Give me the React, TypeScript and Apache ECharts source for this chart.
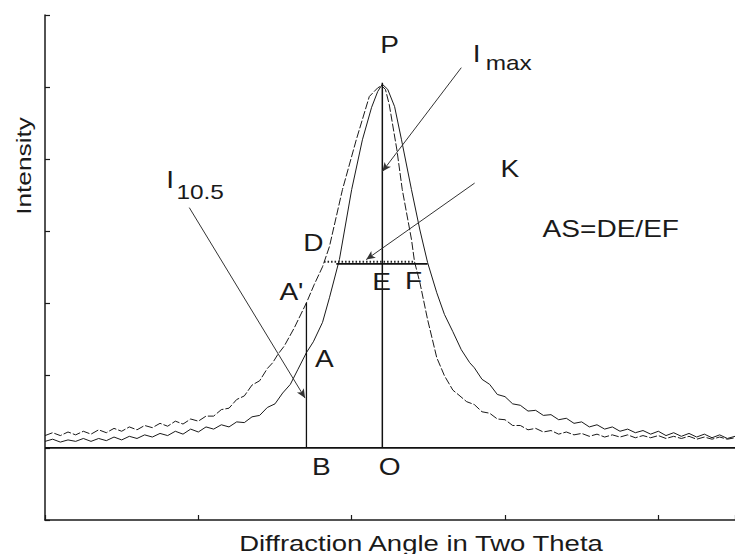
import React, { useEffect, useRef } from "react";
import * as echarts from "echarts";

// Intensity profile of the reference peak (solid trace)
const solidCurve: number[][] = [
  [0, 0.9], [0.5, 1.2], [1, 0.8], [1.5, 1.1], [2, 0.9], [2.5, 1.3], [3, 0.9], [3.5, 1.3],
  [4, 1.0], [4.5, 1.5], [5, 1.1], [5.5, 1.6], [6, 1.3], [6.5, 1.8], [7, 1.5], [7.5, 2.0],
  [8, 1.7], [8.5, 2.3], [9, 1.9], [9.5, 2.6], [10, 2.2], [10.5, 2.9], [11, 2.6], [11.5, 3.2],
  [12, 2.9], [12.5, 3.6], [13, 3.5], [13.5, 4.3], [14, 4.5], [14.5, 5.6], [15, 6.1], [15.5, 7.6],
  [16, 8.8], [16.5, 10.9], [17.05, 13.2], [17.5, 14.7], [18.1, 17.4], [18.55, 20.8], [19.2, 26.1],
  [20, 35.8], [20.7, 42.7], [21.3, 47.2], [21.7, 49.4], [22, 50.4], [22.35, 49.7], [22.8, 47.3],
  [23.25, 42.7], [23.9, 35.8], [24.45, 30.2], [24.95, 25.7], [25.55, 21.5], [26.05, 18.5],
  [26.6, 16.1], [27.15, 13.6], [27.7, 11.8], [28, 11.1], [28.5, 9.5], [29, 8.8], [29.5, 7.4],
  [30, 7.1], [30.5, 6.1], [31, 5.9], [31.5, 5.1], [32, 5.2], [32.5, 4.5], [33, 4.6], [33.5, 3.9],
  [34, 4.1], [34.5, 3.4], [35, 3.6], [35.5, 2.9], [36, 3.2], [36.5, 2.6], [37, 2.9], [37.5, 2.3],
  [38, 2.6], [38.5, 2.1], [39, 2.4], [39.5, 1.9], [40, 2.3], [40.5, 1.7], [41, 2.1], [41.5, 1.6],
  [42, 2.0], [42.5, 1.5], [43, 1.9], [43.5, 1.4], [44, 1.8], [44.5, 1.3], [45, 1.6],
];

// Asymmetric peak (dashed trace)
const dashedCurve: number[][] = [
  [0, 1.7], [0.5, 2.1], [1, 1.7], [1.5, 2.2], [2, 1.8], [2.5, 2.3], [3, 1.9], [3.5, 2.5],
  [4, 2.1], [4.5, 2.7], [5, 2.3], [5.5, 2.9], [6, 2.5], [6.5, 3.1], [7, 2.8], [7.5, 3.4],
  [8, 3.0], [8.5, 3.7], [9, 3.3], [9.5, 4.0], [10, 3.7], [10.5, 4.4], [11, 4.4], [11.5, 5.3],
  [12, 5.5], [12.5, 6.7], [13, 7.2], [13.5, 8.7], [14, 9.3], [14.5, 11.0], [14.85, 11.8],
  [15.2, 13.0], [15.6, 14.1], [16.25, 16.6], [17.05, 20.1], [17.55, 22.6], [18.1, 25.1],
  [18.55, 27.9], [19.4, 35.8], [20.3, 42.7], [21.15, 48.7], [21.7, 49.9], [21.95, 50.2],
  [22.2, 49.7], [22.45, 47.6], [22.95, 41.3], [23.3, 35.8], [23.9, 28.9], [24.1, 25.8],
  [24.45, 22.9], [24.95, 17.8], [25.55, 12.5], [26.05, 10.0], [26.6, 8.0], [27, 7.3],
  [27.5, 6.4], [28, 6.0], [28.5, 5.0], [29, 4.8], [29.5, 4.0], [30, 3.9], [30.5, 3.1],
  [31, 3.1], [31.5, 2.5], [32, 2.7], [32.5, 2.2], [33, 2.4], [33.5, 1.9], [34, 2.2], [34.5, 1.8],
  [35, 2.0], [35.5, 1.6], [36, 1.9], [36.5, 1.5], [37, 1.8], [37.5, 1.5], [38, 1.8], [38.5, 1.4],
  [39, 1.7], [39.5, 1.4], [40, 1.7], [40.5, 1.3], [41, 1.6], [41.5, 1.3], [42, 1.6], [42.5, 1.2],
  [43, 1.5], [43.5, 1.2], [44, 1.5], [44.5, 1.2], [45, 1.4],
];

// Construction lines
const baseline: number[][] = [[0, 0], [45, 0]];
const peakLine: number[][] = [[22, 0], [22, 50.6]];
const bLine: number[][] = [[17.05, 0], [17.05, 20.1]];
const halfLine: number[][] = [[19.0, 25.5], [24.95, 25.5]];
const dottedLine: number[][] = [[18.2, 25.8], [24.1, 25.8]];

// Pointer arrows: [from, to]
const arrows: number[][][] = [
  [[27.15, 52.7], [22.0, 38.3]],
  [[28.02, 36.7], [20.95, 26.1]],
  [[9.41, 33.3], [16.96, 6.9]],
];

// Text labels
const labelTexts = ["P", "I", "max", "K", "AS=DE/EF", "I", "10.5", "D", "E", "F", "A'", "A", "B", "O"];
const labelX = [22.47, 28.15, 30.24, 30.31, 36.9, 8.16, 10.12, 17.5, 21.95, 24.04, 16.07, 18.22, 18.03, 22.47];
const labelY = [55.9, 54.6, 53.3, 38.6, 30.4, 37.2, 35.4, 28.4, 23.0, 23.2, 21.6, 12.3, -2.6, -2.6];

const xTitle = "Diffraction Angle in Two Theta";
const yTitle = "Intensity";

const FONT = '"Liberation Sans", Arial, Helvetica, sans-serif';
const INK = "#1a1a1a";

export default function App() {
  const ref = useRef<HTMLDivElement>(null);

  useEffect(() => {
    if (!ref.current) return;
    const chart = echarts.init(ref.current, null, { renderer: "svg" });

    const smallLabels = new Set(["max", "10.5"]);

    const lineSeries = (data: number[][], width: number, type: any = "solid", color = INK) => ({
      type: "line",
      data,
      showSymbol: false,
      symbol: "none",
      silent: true,
      lineStyle: { color, width, type },
      z: 3,
    });

    const option: any = {
      animation: false,
      backgroundColor: "#ffffff",
      grid: { left: 45, right: 0, top: 15, bottom: 34 },
      xAxis: {
        type: "value",
        min: 0,
        max: 45,
        interval: 10,
        axisLine: { show: true, onZero: false, lineStyle: { color: INK, width: 1.5 } },
        axisTick: { show: true, inside: true, length: 5, lineStyle: { color: INK, width: 1.2 } },
        axisLabel: { show: false },
        splitLine: { show: false },
      },
      yAxis: {
        type: "value",
        min: -10,
        max: 60,
        interval: 10,
        axisLine: { show: true, onZero: false, lineStyle: { color: INK, width: 1.5 } },
        axisTick: { show: true, inside: true, length: 5, lineStyle: { color: INK, width: 1.2 } },
        axisLabel: { show: false },
        splitLine: { show: false },
      },
      graphic: [
        {
          type: "text",
          x: 421,
          y: 543,
          scaleX: 1.25,
          style: {
            text: xTitle,
            fontSize: 22,
            fontFamily: FONT,
            fill: INK,
            align: "center",
            verticalAlign: "middle",
          },
        },
        {
          type: "text",
          x: 23,
          y: 166,
          rotation: Math.PI / 2,
          scaleX: 1.25,
          style: {
            text: yTitle,
            fontSize: 21,
            fontFamily: FONT,
            fill: INK,
            align: "center",
            verticalAlign: "middle",
          },
        },
      ],
      series: [
        lineSeries(solidCurve, 1),
        lineSeries(dashedCurve, 1, [8, 2]),
        {
          ...lineSeries(baseline, 1.6, "solid", "#111"),
          markLine: {
            silent: true,
            symbol: ["none", "arrow"],
            symbolSize: [6, 9],
            label: { show: false },
            lineStyle: { color: "#333", width: 1, type: "solid" },
            data: arrows.map((a) => [{ coord: a[0] }, { coord: a[1] }]),
          },
        },
        lineSeries(peakLine, 1.5, "solid", "#111"),
        lineSeries(bLine, 1.3, "solid", "#111"),
        lineSeries(halfLine, 1.6, "solid", "#111"),
        lineSeries(dottedLine, 1.8, [1.5, 2], "#222"),
        {
          type: "custom",
          silent: true,
          clip: false,
          z: 5,
          encode: { x: 0, y: 1 },
          data: labelX.map((x, i) => [x, labelY[i]]),
          renderItem: (params: any, api: any) => {
            const i = params.dataIndex;
            const p = api.coord([api.value(0), api.value(1)]);
            const t = labelTexts[i];
            return {
              type: "text",
              x: p[0],
              y: p[1],
              scaleX: 1.22,
              style: {
                text: t,
                fontSize: smallLabels.has(t) ? 20 : 23,
                fontFamily: FONT,
                fill: INK,
                align: "center",
                verticalAlign: "middle",
              },
            };
          },
        },
      ],
    };

    chart.setOption(option);
    return () => chart.dispose();
  }, []);

  return (
    <div
      ref={ref}
      style={{ position: "fixed", left: 0, top: 0, width: 735, height: 554, background: "#fff" }}
    />
  );
}
